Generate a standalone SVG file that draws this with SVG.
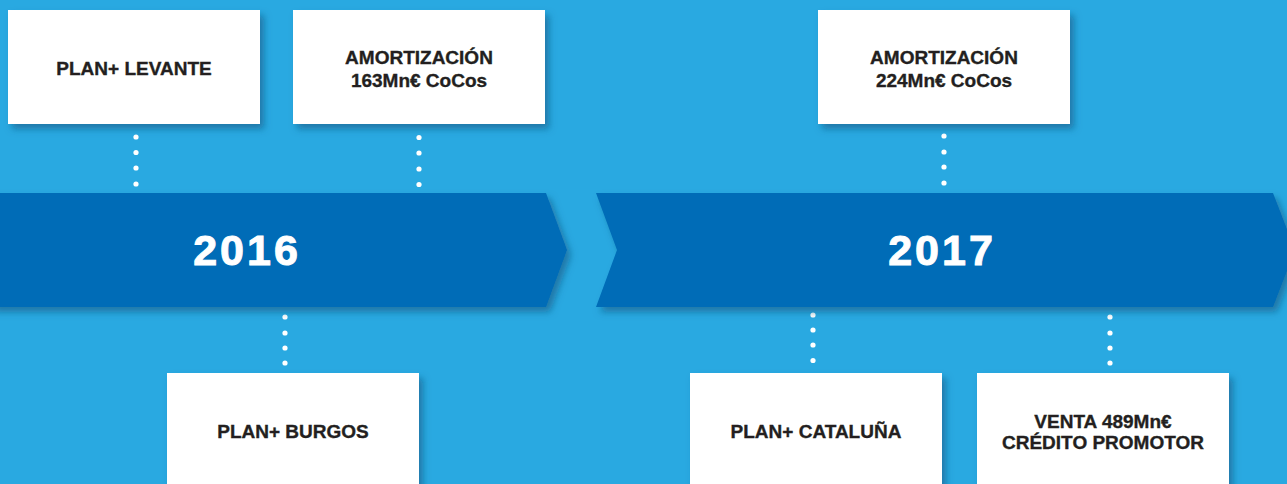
<svg xmlns="http://www.w3.org/2000/svg" width="1287" height="484" viewBox="0 0 1287 484">
  <defs>
    <filter id="sh" x="-10%" y="-20%" width="130%" height="150%">
      <feDropShadow dx="4" dy="5" stdDeviation="3.5" flood-color="#0b4f7a" flood-opacity="0.55"/>
    </filter>
    <style>
      .box { fill: #ffffff; filter: url(#sh); }
      .band { fill: #016cb7; filter: url(#sh); }
      .lbl { font-family: "Liberation Sans", Arial, sans-serif; font-weight: bold; font-size: 19px; fill: #231f20; stroke: #231f20; stroke-width: 0.35px; text-anchor: middle; }
      .year { font-family: "Liberation Sans", Arial, sans-serif; font-weight: bold; font-size: 43px; fill: #ffffff; stroke: #ffffff; stroke-width: 1px; text-anchor: middle; letter-spacing: 3px; }
      .dot { fill: #ffffff; }
    </style>
  </defs>
  <rect x="0" y="0" width="1287" height="484" fill="#29a9e1"/>

  <g id="connectors">
    <circle class="dot" cx="136" cy="137" r="2.6"/>
    <circle class="dot" cx="136" cy="152.5" r="2.6"/>
    <circle class="dot" cx="136" cy="168" r="2.6"/>
    <circle class="dot" cx="136" cy="184" r="2.6"/>

    <circle class="dot" cx="419" cy="137.5" r="2.6"/>
    <circle class="dot" cx="419" cy="153" r="2.6"/>
    <circle class="dot" cx="419" cy="169" r="2.6"/>
    <circle class="dot" cx="419" cy="184.5" r="2.6"/>

    <circle class="dot" cx="944" cy="136" r="2.6"/>
    <circle class="dot" cx="944" cy="152" r="2.6"/>
    <circle class="dot" cx="944" cy="167" r="2.6"/>
    <circle class="dot" cx="944" cy="183" r="2.6"/>

    <circle class="dot" cx="285" cy="317" r="2.6"/>
    <circle class="dot" cx="285" cy="333" r="2.6"/>
    <circle class="dot" cx="285" cy="348" r="2.6"/>
    <circle class="dot" cx="285" cy="363" r="2.6"/>

    <circle class="dot" cx="813" cy="315" r="2.6"/>
    <circle class="dot" cx="813" cy="330" r="2.6"/>
    <circle class="dot" cx="813" cy="345" r="2.6"/>
    <circle class="dot" cx="813" cy="360.5" r="2.6"/>

    <circle class="dot" cx="1110" cy="317" r="2.6"/>
    <circle class="dot" cx="1110" cy="333" r="2.6"/>
    <circle class="dot" cx="1110" cy="348" r="2.6"/>
    <circle class="dot" cx="1110" cy="363" r="2.6"/>
  </g>

  <g id="band-2016">
    <polygon class="band" points="-10,193 546,193 567,250 546,307 -10,307"/>
    <text class="year" x="247" y="265">2016</text>
  </g>
  <g id="band-2017">
    <polygon class="band" points="596,193 1273,193 1295,250 1273,307 596,307 617,250"/>
    <text class="year" x="942" y="265">2017</text>
  </g>

  <g id="node-levante">
    <rect class="box" x="8" y="10" width="252" height="114"/>
    <text class="lbl" x="134" y="75">PLAN+ LEVANTE</text>
  </g>
  <g id="node-amort163">
    <rect class="box" x="293" y="10" width="252" height="114"/>
    <text class="lbl" x="419" y="64">AMORTIZACIÓN</text>
    <text class="lbl" x="419" y="86.5">163Mn€ CoCos</text>
  </g>
  <g id="node-amort224">
    <rect class="box" x="818" y="10" width="252" height="114"/>
    <text class="lbl" x="944" y="64">AMORTIZACIÓN</text>
    <text class="lbl" x="944" y="86.5">224Mn€ CoCos</text>
  </g>
  <g id="node-burgos">
    <rect class="box" x="167" y="373" width="252" height="130"/>
    <text class="lbl" x="293" y="438">PLAN+ BURGOS</text>
  </g>
  <g id="node-cataluna">
    <rect class="box" x="690" y="373" width="252" height="130"/>
    <text class="lbl" x="816" y="438">PLAN+ CATALUÑA</text>
  </g>
  <g id="node-venta">
    <rect class="box" x="977" y="373" width="252" height="130"/>
    <text class="lbl" x="1103" y="428">VENTA 489Mn€</text>
    <text class="lbl" x="1103" y="449">CRÉDITO PROMOTOR</text>
  </g>
</svg>
